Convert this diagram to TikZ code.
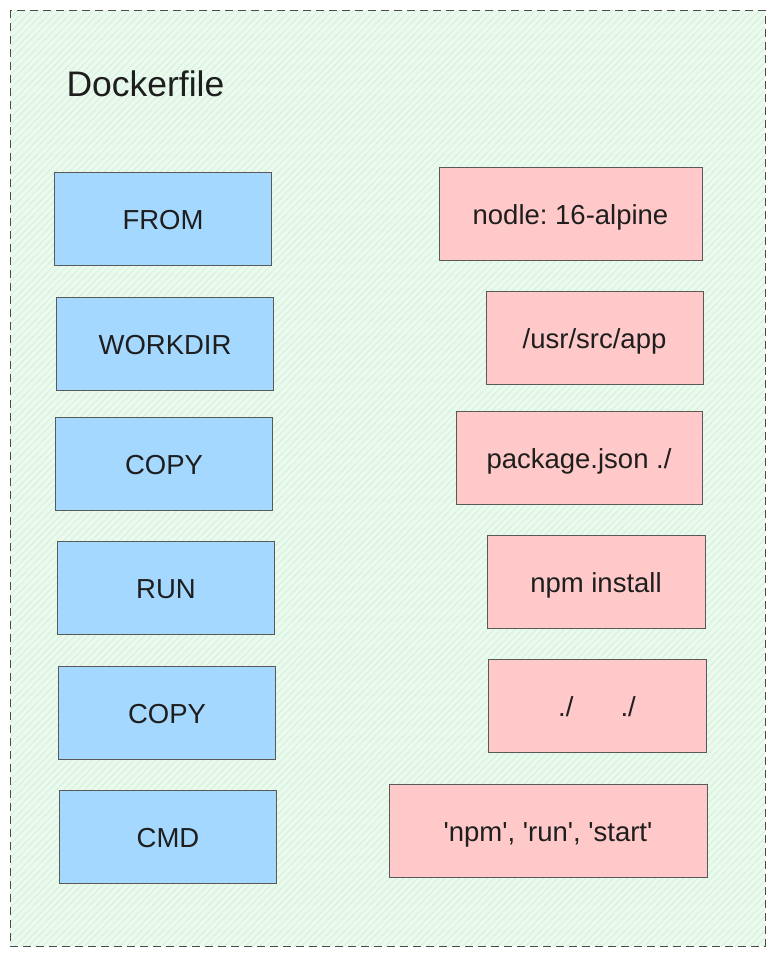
\documentclass[tikz,border=0pt]{standalone}
\usepackage{fontspec}
\setmainfont{Liberation Sans}
\frenchspacing

\definecolor{bgGreen}{HTML}{EBFAEE}
\definecolor{hatchGreen}{HTML}{CDEFD3}
\definecolor{cmdBlue}{HTML}{A5D8FF}
\definecolor{argPink}{HTML}{FFC9C9}
\definecolor{inkGrey}{HTML}{1E1E1E}

\tikzset{
  cmdbox/.style={draw=black!65, line width=0.9pt, fill=cmdBlue, text=inkGrey,
    minimum width=217pt, minimum height=93pt, inner sep=0pt,
    text height=20pt, text depth=0pt,
    font=\fontsize{27.5}{32}\selectfont},
  argbox/.style={draw=black!65, line width=0.9pt, fill=argPink, text=inkGrey,
    minimum height=93pt, inner sep=0pt,
    text height=20pt, text depth=0pt,
    font=\fontsize{27.5}{32}\selectfont},
}

\begin{document}
\begin{tikzpicture}[x=1pt,y=-1pt]
  \useasboundingbox (0,0) rectangle (775,956);

  % background of the dockerfile frame
  \fill[bgGreen] (10,10) rectangle (765,946);
  \begin{scope}
    \clip (10,10) rectangle (765,946);
    \foreach \k in {0,7,...,1700}
      \draw[hatchGreen, line width=0.6pt] (\k-940,956) -- (\k,0);
  \end{scope}
  \draw[black!70, line width=0.9pt, dash pattern=on 8pt off 5pt] (10,10) rectangle (765,946);

  \node[anchor=west, text=inkGrey, font=\fontsize{35.5}{40}\selectfont] (title) at (63,84) {Dockerfile};

  % instructions
  \node[cmdbox] (from) at (163,219) {FROM};
  \node[cmdbox] (workdir) at (165,344) {WORKDIR};
  \node[cmdbox] (copyA) at (164,464) {COPY};
  \node[cmdbox] (run) at (166,588) {RUN};
  \node[cmdbox] (copyB) at (167,713) {COPY};
  \node[cmdbox] (cmd) at (168,837) {CMD};

  % arguments
  \node[argbox, minimum width=263pt] (image) at (570.5,214) {nodle: 16-alpine};
  \node[argbox, minimum width=217pt] (appdir) at (594.5,338) {/usr/src/app};
  \node[argbox, minimum width=246pt] (pkg) at (579,458) {package.json ./};
  \node[argbox, minimum width=218pt] (install) at (596,582) {npm install};
  \node[argbox, minimum width=218pt] (src) at (597,706) {./\hspace{47pt}./};
  \node[argbox, minimum width=318pt] (start) at (548,831)
    {\textquotesingle npm\textquotesingle, \textquotesingle run\textquotesingle, \textquotesingle start\textquotesingle};
\end{tikzpicture}
\end{document}
